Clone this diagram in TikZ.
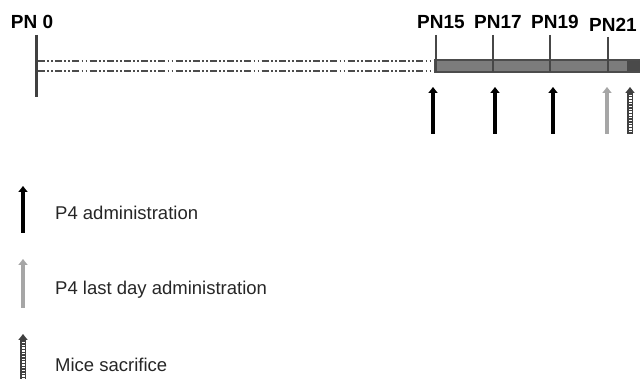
\documentclass[tikz,border=0pt]{standalone}
\usepackage{fontspec}
\setmainfont{Liberation Sans}
\usepackage[]{tikz}
\usetikzlibrary{arrows.meta}
\definecolor{barfill}{HTML}{7C7C7C}
\definecolor{barend}{HTML}{4A4A4A}
\definecolor{lasttone}{HTML}{A6A6A6}
\tikzset{daylabel/.style={font=\fontsize{19}{21}\selectfont\bfseries,anchor=base,inner sep=0pt},
  dayline/.style={line width=2pt,draw=black!72},
  dashline/.style={line width=1.8pt,black!70,dash pattern=on 7pt off 2.2pt on 1.8pt off 2.2pt on 1.8pt off 2.2pt},
  dose/.style={line width=4.5pt,-{Triangle[length=6pt,width=9pt]}},
  killmark/.style={line width=5.5pt,black!75,-{Triangle[length=6pt,width=9pt]}},
  killfill/.style={line width=3pt,white,dash pattern=on 1.4pt off 1.4pt},
  legendtext/.style={font=\fontsize{18.5}{21}\selectfont,anchor=west,text=black!85,inner sep=0pt}}

\begin{document}
\begin{tikzpicture}[x=1pt,y=-1pt] % pixel units, y down
        \useasboundingbox (0,0) rectangle (640,379);
        % timeline
        \draw[dashline] (38,61)--(435,61);
        \draw[dashline] (38,71)--(435,71);
        \draw[line width=1.6pt,draw=black!70,fill=barfill] (435,60) rectangle (645,72);
        \fill[barend] (627,60.8) rectangle (645,71.2);
        \draw[line width=2.4pt,black!75] (36.5,35)--(36.5,97);
        \node[daylabel] (pn0) at (32,29) {PN 0};
        \node[daylabel] (pn15) at (441,29) {PN15};
        \node[daylabel] (pn17) at (498,29) {PN17};
        \node[daylabel] (pn19) at (555,29) {PN19};
        \node[daylabel] (pn21) at (613,32) {PN21};
        \coordinate (t15) at (436,35);
        \coordinate (t17) at (493,35);
        \coordinate (t19) at (550,35);
        \coordinate (t21) at (607.5,37);
        \draw[dayline] (t15)--(436,72);
        \draw[dayline] (t17)--(493,72);
        \draw[dayline] (t19)--(550,72);
        \draw[dayline] (t21)--(607.5,72);
        % injections
        \draw[dose,black] (433,134)--(433,87);
        \draw[dose,black] (495,134)--(495,87);
        \draw[dose,black] (553,134)--(553,87);
        \draw[dose,lasttone] (607,134)--(607,87);
        \draw[killmark] (630,134)--(630,87);
        \draw[killfill] (630,132.5)--(630,94);
        % legend
        \draw[dose,black] (23,233)--(23,186);
        \node[legendtext] (l1) at (55,213) {P4 administration};
        \draw[dose,lasttone] (23,308)--(23,259);
        \node[legendtext] (l2) at (55,290) {P4 last day administration};
        \draw[killmark] (23,390)--(23,334);
        \draw[killfill] (23,388)--(23,341);
        \node[legendtext] (l3) at (55,365) {Mice sacrifice};
        \end{tikzpicture}
\end{document}
